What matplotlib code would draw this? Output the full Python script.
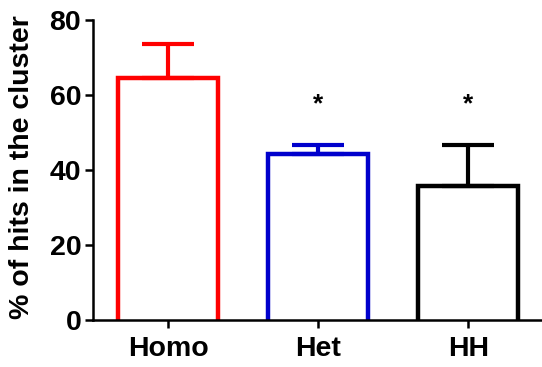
import matplotlib

matplotlib.use('Agg')
import matplotlib.pyplot as plt
import numpy as np

groups = ['Homo', 'Het', 'HH']
means = [64.6, 44.4, 35.8]
upper_err = [9.0, 2.3, 10.9]
colors = ['#ff0000', '#0000cc', '#000000']
signif = ['', '*', '*']
star_level = 57.5

plt.rcParams['font.family'] = ['Liberation Sans', 'DejaVu Sans']
plt.rcParams['font.weight'] = 'bold'

fig = plt.figure(figsize=(5.42, 3.67), dpi=100)
ax = fig.add_axes([0.1716, 0.128, 0.8264, 0.8175])

x = np.arange(len(groups))
width = 0.667
for xi, m, e, c, s in zip(x, means, upper_err, colors, signif):
    # open bar outline (no bottom edge)
    ax.plot([xi - width / 2, xi - width / 2, xi + width / 2, xi + width / 2],
            [0, m, m, 0], color=c, lw=3.2, solid_joinstyle='miter', zorder=2)
    # one-sided SEM error bar
    ax.errorbar(xi, m, yerr=[[0], [e]], color=c, elinewidth=3.0,
                capsize=19, capthick=3.0, fmt='none', zorder=2)
    if s:
        ax.text(xi, star_level, s, ha='center', va='center', fontsize=19,
                fontweight='bold')

ax.set_xlim(-0.502, 2.485)
ax.set_ylim(0, 80)
ax.set_yticks([0, 20, 40, 60, 80])
ax.set_xticks(x)
ax.set_xticklabels(groups)
ax.set_ylabel('% of hits in the cluster', fontsize=20.5, fontweight='bold')
ax.yaxis.set_label_coords(-0.129, 0.51)

for side in ['top', 'right']:
    ax.spines[side].set_visible(False)
for side in ['left', 'bottom']:
    ax.spines[side].set_linewidth(1.8)
    ax.spines[side].set_zorder(3)
ax.tick_params(axis='both', width=1.8, length=5.5, labelsize=20.5, pad=3)
ax.tick_params(axis='x', pad=6)

fig.savefig('out.png', dpi=100)
